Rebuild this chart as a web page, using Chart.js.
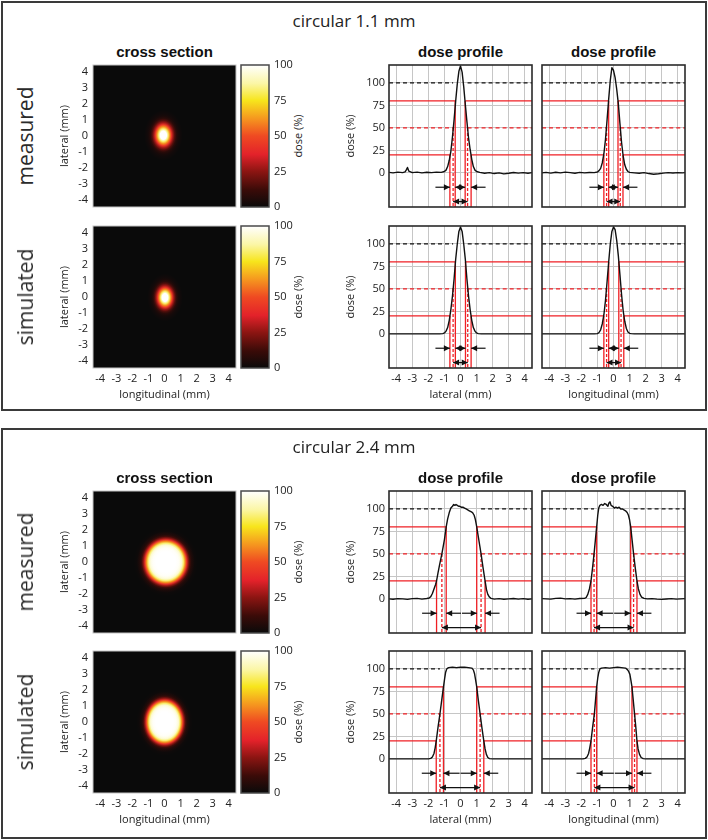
<!DOCTYPE html>
<html><head><meta charset="utf-8"><title>circular collimator dose profiles</title>
<script src="https://cdn.jsdelivr.net/npm/chart.js@4.4.1/dist/chart.umd.min.js"></script>
<style>
html,body{margin:0;padding:0;background:#fff;}
#wrap{position:relative;width:708px;height:840px;overflow:hidden;background:#fff;}
#wrap canvas{position:absolute;left:0;top:0;}
.panel{position:absolute;left:1px;width:706px;border:2px solid #3a3a3a;box-sizing:border-box;}
.txt{position:absolute;white-space:nowrap;transform:translate(-50%,-50%);line-height:1;color:#222;}
.ptitle{font:17px "Open Sans",sans-serif;}
.ctitle{font:bold 15px "Liberation Sans",Arial,sans-serif;color:#111;}
.rlabel{font:21px "Open Sans",sans-serif;transform:translate(-50%,-50%) rotate(-90deg);color:#2a2a2a;}
.cblabel{font:11px "Open Sans",sans-serif;transform:translate(-50%,-50%) rotate(-90deg);}
</style></head>
<body><div id="wrap"></div>
<script>
// ---------------- data ----------------
const panelTitles = ['circular 1.1 mm', 'circular 2.4 mm'];
const rowLabels = ['measured', 'simulated'];
const mmTicks = [-4, -3, -2, -1, 0, 1, 2, 3, 4];
const doseTicks = [0, 25, 50, 75, 100];
const colormapDose = [0, 12, 25, 37, 50, 62, 75, 87, 100];
const colormapColor = ['#0a0a0a', '#3a0b08', '#8c1512', '#e3222a', '#ef4a22', '#f5951f', '#f7e51c', '#fbf6a6', '#ffffff'];

// circular 1.1 mm - measured - lateral
const m11LatX = [-4.45,-4.2,-3.9,-3.6,-3.45,-3.38,-3.3,-3.22,-3.0,-2.7,-2.4,-2.1,-1.8,-1.5,-1.2,-1.0,-0.9,-0.8,-0.7,-0.6,-0.5,-0.4,-0.3,-0.2,-0.1,0,0.1,0.2,0.3,0.4,0.5,0.6,0.7,0.8,0.9,1.0,1.2,1.5,1.8,2.1,2.4,2.7,3.0,3.3,3.6,3.9,4.2,4.45];
const m11LatDose = [0.5,0,0.8,0.2,1,3,6,2,0.3,0.8,0,0.6,0.3,0.8,0.5,1.5,3,7,14,24,40,59,80,99,113,119,112,96,76,57,39,26,15,7,3,1.5,0.5,-0.5,0.3,-0.8,0,-1.2,-0.5,0.4,-0.3,0.2,-0.5,0.3];
const m11LatCross = [-0.66,-0.46,-0.33,0.29,0.44,0.66];
// circular 1.1 mm - measured - longitudinal
const m11LonX = [-4.45,-4.2,-3.9,-3.6,-3.3,-3.0,-2.7,-2.4,-2.1,-1.8,-1.5,-1.2,-1.0,-0.9,-0.8,-0.7,-0.6,-0.5,-0.4,-0.3,-0.2,-0.1,0,0.1,0.2,0.3,0.4,0.5,0.6,0.7,0.8,0.9,1.0,1.3,1.6,1.9,2.2,2.5,2.8,3.1,3.4,3.7,4.0,4.3,4.45];
const m11LonDose = [0,0.5,-0.3,0.6,0,0.8,0.2,-0.4,0.5,0,0.4,0.3,1,2.5,5,11,21,37,59,82,103,117,114,106,93,77,55,34,19,9,4,1.5,0.5,0,-0.4,0.2,-0.8,-1.5,-1,-0.3,0.2,-0.2,0.3,0,0.2];
const m11LonCross = [-0.60,-0.43,-0.30,0.28,0.42,0.59];
// circular 1.1 mm - simulated - lateral
const s11LatX = [-4.45,-2.0,-1.3,-1.1,-1.0,-0.9,-0.8,-0.7,-0.6,-0.5,-0.4,-0.3,-0.2,-0.1,0,0.1,0.2,0.3,0.4,0.5,0.6,0.7,0.8,0.9,1.0,1.1,1.3,2.0,4.45];
const s11LatDose = [0,0,0,0.3,1,3,7,15,27,42,61,83,100,114,119,114,100,83,61,42,27,15,7,3,1,0.3,0,0,0];
const s11LatCross = [-0.66,-0.46,-0.32,0.31,0.45,0.66];
// circular 1.1 mm - simulated - longitudinal
const s11LonX = [-4.45,-2.0,-1.2,-1.0,-0.9,-0.8,-0.7,-0.6,-0.5,-0.4,-0.3,-0.2,-0.1,0,0.1,0.2,0.3,0.4,0.5,0.6,0.7,0.8,0.9,1.0,1.1,1.3,2.0,4.45];
const s11LonDose = [0,0,0,0.3,1.5,4.5,11,21,37,58,80,100,114,119,116,104,87,66,44,26,14,6,2,0.6,0.2,0,0,0];
const s11LonCross = [-0.60,-0.43,-0.30,0.33,0.47,0.64];

// circular 2.4 mm - measured - lateral
const m24LatX = [-4.45,-4.2,-3.9,-3.6,-3.3,-3.0,-2.7,-2.4,-2.1,-1.95,-1.85,-1.75,-1.65,-1.55,-1.49,-1.4,-1.3,-1.16,-1.0,-0.89,-0.8,-0.7,-0.6,-0.5,-0.42,-0.35,-0.28,-0.2,-0.12,-0.05,0.05,0.15,0.25,0.35,0.45,0.55,0.65,0.75,0.85,0.93,1.01,1.1,1.2,1.28,1.4,1.53,1.62,1.7,1.8,1.9,2.1,2.4,2.7,3.0,3.3,3.6,3.9,4.2,4.45];
const m24LatDose = [0,-0.5,0.3,0,-0.6,0.2,0.5,-0.3,0.4,1,2.5,6,11,16,20,29,38,50,66,80,89,96,101,103,105,104,105,104,103,103,102,102,101,100,99,98,97,96,93,88,80,70,59,50,35,20,10,5,2,0.5,-0.3,0.3,-0.5,0,0.4,-0.3,0.2,-0.4,0];
const m24LatCross = [-1.49,-1.16,-0.89,1.01,1.28,1.53];
// circular 2.4 mm - measured - longitudinal
const m24LonX = [-4.45,-4.2,-3.9,-3.6,-3.3,-3.0,-2.7,-2.4,-2.1,-1.8,-1.7,-1.6,-1.5,-1.4,-1.3,-1.21,-1.13,-1.05,-0.98,-0.92,-0.85,-0.75,-0.65,-0.55,-0.45,-0.35,-0.28,-0.22,-0.15,-0.05,0.05,0.15,0.25,0.35,0.45,0.55,0.65,0.75,0.85,0.93,1.0,1.07,1.16,1.25,1.35,1.46,1.55,1.65,1.75,1.9,2.1,2.4,2.7,3.0,3.3,3.6,3.9,4.2,4.45];
const m24LonDose = [0.3,0,-0.3,0.5,0.8,0,0.3,-0.3,0.4,0.5,1.5,5,11,20,35,50,65,80,93,101,104,105,104,106,105,103,107,108,104,103,101,102,101,102,100,100,99,98,96,93,88,80,65,50,35,20,11,5,2,0.5,0,0.3,-0.3,-0.6,-0.2,0.3,-0.3,0,0.2];
const m24LonCross = [-1.40,-1.21,-1.05,1.07,1.25,1.46];
// circular 2.4 mm - simulated - lateral
const s24LatX = [-4.45,-2.0,-1.85,-1.75,-1.65,-1.58,-1.51,-1.4,-1.28,-1.17,-1.06,-0.99,-0.93,-0.86,-0.75,-0.5,-0.25,0,0.25,0.5,0.7,0.8,0.87,0.94,1.01,1.11,1.22,1.33,1.45,1.53,1.61,1.7,1.8,2.0,4.45];
const s24LatDose = [0,0,0.5,2,6,12,20,35,50,65,80,89,96,100,101.5,102,101.5,102,102,101.5,101,99,95,88,80,65,50,35,20,11,5,1.5,0.3,0,0];
const s24LatCross = [-1.51,-1.28,-1.06,1.01,1.22,1.45];
// circular 2.4 mm - simulated - longitudinal
const s24LonX = [-4.45,-1.9,-1.75,-1.65,-1.55,-1.48,-1.4,-1.3,-1.19,-1.12,-1.05,-0.98,-0.92,-0.85,-0.75,-0.5,-0.25,0,0.25,0.5,0.75,0.88,0.95,1.02,1.08,1.15,1.23,1.31,1.39,1.46,1.53,1.62,1.72,1.85,2.0,4.45];
const s24LonDose = [0,0,0.5,2,6,12,20,35,50,65,80,90,96,100,101,101.5,101,101.5,102,101.5,101,99,97,94,88,80,65,50,35,20,11,5,1.5,0.3,0,0];
const s24LonCross = [-1.40,-1.19,-1.05,1.15,1.31,1.46];

// cross sections: radial dose profile of the spot (mm, %)
const spot11R = [0,0.1,0.2,0.3,0.4,0.5,0.6,0.7,0.8,0.9,1.0,1.2];
const spot11Dose = [118,113,100,82,61,43,27,16,8,4,2,0];
const spot24R = [0,0.6,0.8,0.9,1.0,1.1,1.2,1.3,1.4,1.5,1.6,1.8,2.0];
const spot24Dose = [101,101,99,97,93,82,62,42,25,13,6,1,0];

// ---------------- helpers ----------------
const W = 708, H = 840;
const FONT = '"Open Sans", "DejaVu Sans", sans-serif';
const RED = '#ef1f24', GRID = '#c6c6c6', INK = '#222';
const MM_MIN = -4.45, MM_MAX = 4.45, P_YMIN = -38, P_YMAX = 120;
Chart.defaults.font.family = FONT;
Chart.defaults.animation = false;
Chart.defaults.responsive = false;
Chart.defaults.events = [];
Chart.defaults.plugins.legend.display = false;
Chart.defaults.plugins.tooltip.enabled = false;

const wrap = document.getElementById('wrap');
function newCanvas() {
  const c = document.createElement('canvas');
  c.width = W; c.height = H; wrap.appendChild(c); return c;
}
function addText(cls, text, cx, cy) {
  const d = document.createElement('div');
  d.className = 'txt ' + cls; d.textContent = text;
  d.style.left = cx + 'px'; d.style.top = cy + 'px';
  wrap.appendChild(d);
}
function addPanel(top, height) {
  const d = document.createElement('div');
  d.className = 'panel'; d.style.top = top + 'px'; d.style.height = height + 'px';
  wrap.appendChild(d);
}
function hexRgb(h) { return [1, 3, 5].map(i => parseInt(h.substr(i, 2), 16)); }
function doseColor(d) {
  d = Math.max(0, Math.min(100, d));
  for (let i = 1; i < colormapDose.length; i++) {
    if (d <= colormapDose[i]) {
      const t = (d - colormapDose[i - 1]) / (colormapDose[i] - colormapDose[i - 1]);
      const a = hexRgb(colormapColor[i - 1]), b = hexRgb(colormapColor[i]);
      return 'rgb(' + a.map((v, k) => Math.round(v + (b[k] - v) * t)).join(',') + ')';
    }
  }
  return colormapColor[colormapColor.length - 1];
}
function framePlugin(color, width) {
  return { id: 'frame', afterDraw(chart) {
    const a = chart.chartArea, c = chart.ctx;
    c.save(); c.strokeStyle = color; c.lineWidth = width;
    c.strokeRect(a.left, a.top, a.right - a.left, a.bottom - a.top); c.restore();
  }};
}
const tickFont = { family: FONT, size: 11 };
function fixedTicks(list) { return s => { s.ticks = list.map(v => ({ value: v })); }; }

// ---------------- dose profile ----------------
function profileChart(box, xs, ds, cross, showY, xTitle) {
  const [L20, L50, L80, R80, R50, R20] = cross;
  const yW = showY ? 45 : 0, xH = xTitle ? 33 : 0;
  const seg = (pts, color, dash) => ({ data: pts.map(([x, y]) => ({ x, y })), borderColor: color,
    borderWidth: 1.3, borderDash: dash || [], pointRadius: 0, fill: false, tension: 0 });
  const datasets = [
    { data: xs.map((x, i) => ({ x, y: ds[i] })), borderColor: '#111', borderWidth: 1.4, pointRadius: 0,
      fill: false, tension: 0, borderJoinStyle: 'round' },
    seg([[MM_MIN, 100], [L50, 100]], '#111', [4, 3]), seg([[R50, 100], [MM_MAX, 100]], '#111', [4, 3]),
    seg([[MM_MIN, 80], [L80, 80]], RED), seg([[R80, 80], [MM_MAX, 80]], RED),
    seg([[MM_MIN, 50], [L50, 50]], RED, [4, 3]), seg([[R50, 50], [MM_MAX, 50]], RED, [4, 3]),
    seg([[MM_MIN, 20], [L20, 20]], RED), seg([[R20, 20], [MM_MAX, 20]], RED),
    seg([[L20, 20], [L20, P_YMIN]], RED), seg([[L80, 80], [L80, P_YMIN]], RED),
    seg([[R80, 80], [R80, P_YMIN]], RED), seg([[R20, 20], [R20, P_YMIN]], RED),
    seg([[L50, 50], [L50, P_YMIN]], RED, [3, 2]), seg([[R50, 50], [R50, P_YMIN]], RED, [3, 2])
  ];
  const mid = (L80 + R80) / 2;
  const arrows = [
    { x1: L20 - 0.9, x2: L20, y: -16, both: false },
    { x1: mid - 0.03, x2: L80, y: -16, both: false },
    { x1: mid + 0.03, x2: R80, y: -16, both: false },
    { x1: R20 + 0.9, x2: R20, y: -16, both: false },
    { x1: L50, x2: R50, y: -32, both: true }
  ];
  const arrowPlugin = { id: 'arrows', afterDatasetsDraw(chart) {
    const c = chart.ctx, sx = chart.scales.x, sy = chart.scales.y;
    c.save(); c.strokeStyle = '#111'; c.fillStyle = '#111'; c.lineWidth = 1.2;
    const head = (tip, dir, py) => {
      c.beginPath(); c.moveTo(tip, py); c.lineTo(tip - dir * 6, py - 3); c.lineTo(tip - dir * 6, py + 3);
      c.closePath(); c.fill();
    };
    arrows.forEach(a => {
      const p1 = sx.getPixelForValue(a.x1), p2 = sx.getPixelForValue(a.x2), py = sy.getPixelForValue(a.y);
      const dir = p2 > p1 ? 1 : -1;
      c.beginPath(); c.moveTo(p1, py); c.lineTo(p2, py); c.stroke();
      head(p2, dir, py);
      if (a.both) head(p1, -dir, py);
    });
    c.restore();
  }};
  new Chart(newCanvas(), {
    type: 'line',
    data: { datasets },
    options: {
      layout: { padding: { left: box.l - yW, top: box.t, right: W - box.r, bottom: H - box.b - xH } },
      scales: {
        x: { type: 'linear', min: MM_MIN, max: MM_MAX, afterBuildTicks: fixedTicks(mmTicks),
          grid: { color: GRID, lineWidth: 1, drawTicks: false }, border: { display: false },
          ticks: { display: !!xTitle, padding: 4, color: INK, font: tickFont, maxRotation: 0, autoSkip: false },
          title: { display: !!xTitle, text: xTitle || '', color: INK, font: tickFont, padding: { top: 0, bottom: 0 } },
          afterFit: s => { s.height = xH; } },
        y: { type: 'linear', min: P_YMIN, max: P_YMAX, afterBuildTicks: fixedTicks(doseTicks),
          grid: { color: GRID, lineWidth: 1, drawTicks: false }, border: { display: false },
          ticks: { display: showY, padding: 4, color: INK, font: tickFont },
          title: { display: showY, text: 'dose (%)', color: INK, font: tickFont, padding: { top: 0, bottom: 0 } },
          afterFit: s => { s.width = yW; } }
      }
    },
    plugins: [arrowPlugin, framePlugin('#2a2a2a', 1.6)]
  });
}

// ---------------- cross section ----------------
function heatChart(box, spotR, spotDose, spot, showX) {
  const yW = 35, xH = showX ? 33 : 0;
  const spotPlugin = { id: 'spot', beforeDatasetsDraw(chart) {
    const a = chart.chartArea, c = chart.ctx, xs = chart.scales.x, ys = chart.scales.y;
    c.save(); c.beginPath(); c.rect(a.left, a.top, a.right - a.left, a.bottom - a.top); c.clip();
    c.fillStyle = doseColor(0); c.fillRect(a.left, a.top, a.right - a.left, a.bottom - a.top);
    const px = xs.getPixelForValue(spot.cx), py = ys.getPixelForValue(spot.cy);
    const kx = (xs.getPixelForValue(1) - xs.getPixelForValue(0)) * spot.sx;
    const ky = (ys.getPixelForValue(0) - ys.getPixelForValue(1)) * spot.sy;
    c.translate(px, py); c.scale(kx, ky);
    const rMax = spotR[spotR.length - 1];
    const g = c.createRadialGradient(0, 0, 0, 0, 0, rMax);
    spotR.forEach((r, i) => g.addColorStop(r / rMax, doseColor(spotDose[i])));
    c.fillStyle = g; c.beginPath(); c.arc(0, 0, rMax, 0, Math.PI * 2); c.fill();
    c.restore();
  }};
  new Chart(newCanvas(), {
    type: 'scatter',
    data: { datasets: [{ data: [{ x: spot.cx, y: spot.cy }], pointRadius: 0 }] },
    options: {
      layout: { padding: { left: box.l - yW, top: box.t, right: W - box.r, bottom: H - box.b - xH } },
      scales: {
        x: { type: 'linear', min: MM_MIN, max: MM_MAX, afterBuildTicks: fixedTicks(mmTicks),
          grid: { display: false, drawTicks: false }, border: { display: false },
          ticks: { display: showX, padding: 4, color: INK, font: tickFont, maxRotation: 0, autoSkip: false },
          title: { display: showX, text: 'longitudinal (mm)', color: INK, font: tickFont, padding: { top: 0, bottom: 0 } },
          afterFit: s => { s.height = xH; } },
        y: { type: 'linear', min: MM_MIN, max: MM_MAX, afterBuildTicks: fixedTicks(mmTicks),
          grid: { display: false, drawTicks: false }, border: { display: false },
          ticks: { padding: 5, color: INK, font: tickFont, autoSkip: false },
          title: { display: true, text: 'lateral (mm)', color: INK, font: tickFont, padding: { top: 0, bottom: 0 } },
          afterFit: s => { s.width = yW; } }
      }
    },
    plugins: [spotPlugin, framePlugin('#c4c4c4', 1)]
  });
}

// ---------------- colour bar ----------------
function colorbarChart(box) {
  const rW = 32;
  new Chart(newCanvas(), {
    type: 'bar',
    data: { labels: [''], datasets: [{ data: [[0, 100]], borderWidth: 0, barPercentage: 1, categoryPercentage: 1,
      backgroundColor: ctx => {
        const ch = ctx.chart, y = ch.scales.y;
        if (!ch.chartArea || !y) return '#000';
        const g = ch.ctx.createLinearGradient(0, y.getPixelForValue(0), 0, y.getPixelForValue(100));
        colormapDose.forEach((d, i) => g.addColorStop(d / 100, colormapColor[i]));
        return g;
      } }] },
    options: {
      layout: { padding: { left: box.l, top: box.t, right: W - box.r - rW, bottom: H - box.b } },
      scales: {
        x: { display: false },
        y: { position: 'right', min: 0, max: 100, afterBuildTicks: fixedTicks(doseTicks),
          grid: { display: false, drawTicks: false }, border: { display: false },
          ticks: { padding: 5, color: INK, font: tickFont },
          afterFit: s => { s.width = rW; } }
      }
    },
    plugins: [framePlugin('#4a4a4a', 1.5)]
  });
}

// ---------------- layout ----------------
addPanel(1, 410);
addPanel(428, 411);

const colHeat = { l: 93, r: 236 }, colBar = { l: 241, r: 269 }, colP1 = { l: 389, r: 532 }, colP2 = { l: 542, r: 685 };
const panels = [
  { titleY: 20, headY: 51, rows: [[65, 207], [226, 368]],
    spotR: spot11R, spotDose: spot11Dose,
    spots: [{ cx: -0.07, cy: 0.05, sx: 1.0, sy: 1.32 }, { cx: 0.03, cy: -0.03, sx: 0.92, sy: 1.25 }],
    prof: [[m11LatX, m11LatDose, m11LatCross, m11LonX, m11LonDose, m11LonCross],
           [s11LatX, s11LatDose, s11LatCross, s11LonX, s11LonDose, s11LonCross]] },
  { titleY: 446, headY: 477, rows: [[491, 633], [651, 793]],
    spotR: spot24R, spotDose: spot24Dose,
    spots: [{ cx: 0.08, cy: 0.0, sx: 1.0, sy: 1.07 }, { cx: 0.0, cy: 0.0, sx: 0.88, sy: 1.06 }],
    prof: [[m24LatX, m24LatDose, m24LatCross, m24LonX, m24LonDose, m24LonCross],
           [s24LatX, s24LatDose, s24LatCross, s24LonX, s24LonDose, s24LonCross]] }
];

panels.forEach((p, pi) => {
  addText('ptitle', panelTitles[pi], 354, p.titleY);
  addText('ctitle', 'cross section', (colHeat.l + colHeat.r) / 2, p.headY);
  addText('ctitle', 'dose profile', (colP1.l + colP1.r) / 2, p.headY);
  addText('ctitle', 'dose profile', (colP2.l + colP2.r) / 2, p.headY);
  p.rows.forEach(([t, b], ri) => {
    const last = ri === 1;
    const cy = (t + b) / 2;
    addText('rlabel', rowLabels[ri], 25, cy);
    addText('cblabel', 'dose (%)', 297, cy);
    heatChart({ l: colHeat.l, r: colHeat.r, t, b }, p.spotR, p.spotDose, p.spots[ri], last);
    colorbarChart({ l: colBar.l, r: colBar.r, t, b });
    const d = p.prof[ri];
    profileChart({ l: colP1.l, r: colP1.r, t, b }, d[0], d[1], d[2], true, last ? 'lateral (mm)' : '');
    profileChart({ l: colP2.l, r: colP2.r, t, b }, d[3], d[4], d[5], false, last ? 'longitudinal (mm)' : '');
  });
});
</script>
</body></html>
